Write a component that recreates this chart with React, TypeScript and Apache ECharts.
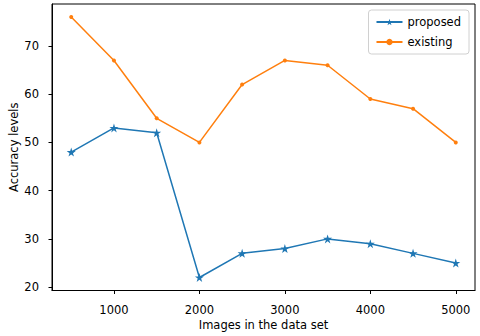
import React, { useEffect, useRef } from "react";
import * as echarts from "echarts";

const xValues = [500, 1000, 1500, 2000, 2500, 3000, 3500, 4000, 4500, 5000];
const proposed = [48, 53, 52, 22, 27, 28, 30, 29, 27, 25];
const existing = [76, 67, 55, 50, 62, 67, 66, 59, 57, 50];
const xTicks = [1000, 2000, 3000, 4000, 5000];
const yTicks = [20, 30, 40, 50, 60, 70];

const STAR =
  "path://M0,-10 L2.245,-3.09 L9.51,-3.09 L3.633,1.18 L5.878,8.09 L0,3.82 L-5.878,8.09 L-3.633,1.18 L-9.51,-3.09 L-2.245,-3.09 Z";

export default function App() {
  const ref = useRef<HTMLDivElement>(null);
  useEffect(() => {
    const chart = echarts.init(ref.current!, null, { renderer: "svg" });
    const font = "DejaVu Sans";
    chart.setOption({
      animation: false,
      textStyle: { fontFamily: font },
      grid: {
        left: 52,
        right: 5,
        top: 4,
        bottom: 45.5,
        containLabel: false,
        outerBoundsMode: "none",
        show: true,
        borderColor: "#000",
        borderWidth: 1,
        backgroundColor: "transparent",
      },
      legend: {
        right: 11,
        top: 10,
        orient: "vertical",
        itemWidth: 26,
        itemHeight: 8,
        itemGap: 8,
        padding: [6, 8, 6, 7],
        borderColor: "#d0d0d0",
        borderWidth: 1,
        borderRadius: 3,
        textStyle: { fontFamily: font, fontSize: 11.5, color: "#000" },
        data: ["proposed", "existing"],
      },
      xAxis: {
        type: "value",
        min: 275,
        max: 5225,
        name: "Images in the data set",
        nameLocation: "middle",
        nameGap: 28,
        nameMoveOverlap: false,
        nameTextStyle: { fontFamily: font, fontSize: 11.5, color: "#000" },
        splitLine: { show: false },
        axisLine: { lineStyle: { color: "#000" } },
        axisTick: { show: true, length: 3.5, customValues: xTicks, lineStyle: { color: "#000" } },
        axisLabel: {
          customValues: xTicks,
          formatter: (v: number) => String(v),
          fontFamily: font,
          fontSize: 11.5,
          color: "#000",
          margin: 13,
        },
      },
      yAxis: {
        type: "value",
        min: 19.3,
        max: 78.7,
        name: "Accuracy levels",
        nameLocation: "middle",
        nameGap: 32,
        nameMoveOverlap: false,
        nameTextStyle: { fontFamily: font, fontSize: 11.5, color: "#000" },
        splitLine: { show: false },
        axisLine: { show: true, lineStyle: { color: "#000" } },
        axisTick: { show: true, length: 3.5, customValues: yTicks, lineStyle: { color: "#000" } },
        axisLabel: {
          customValues: yTicks,
          formatter: (v: number) => String(v),
          fontFamily: font,
          fontSize: 11.5,
          color: "#000",
          margin: 13,
        },
      },
      series: [
        {
          name: "proposed",
          type: "line",
          data: xValues.map((x, i) => [x, proposed[i]]),
          color: "#1f77b4",
          lineStyle: { width: 1.5 },
          symbol: STAR,
          symbolSize: 9,
          itemStyle: { color: "#1f77b4" },
        },
        {
          name: "existing",
          type: "line",
          data: xValues.map((x, i) => [x, existing[i]]),
          color: "#ff7f0e",
          lineStyle: { width: 1.5 },
          symbol: "circle",
          symbolSize: 4,
          itemStyle: { color: "#ff7f0e" },
        },
      ],
    });
    return () => chart.dispose();
  }, []);
  return <div ref={ref} style={{ width: 480, height: 336, position: "absolute", left: 0, top: 0 }} />;
}
